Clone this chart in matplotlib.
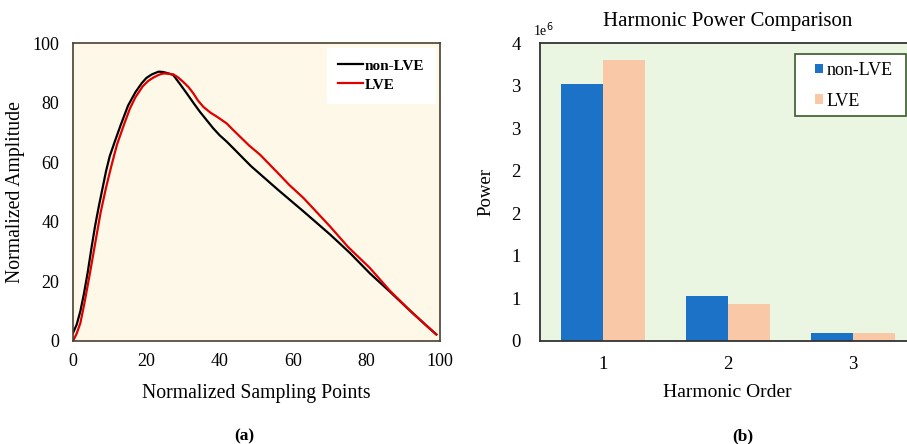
import matplotlib
matplotlib.use("Agg")
import matplotlib.pyplot as plt
from matplotlib.patches import Patch, Rectangle

plt.rcParams['font.family'] = ['Liberation Serif', 'DejaVu Serif']

# ---- data (a) ----
x_non = [0, 1, 2, 3, 4, 5, 6, 7, 8, 9, 10, 11.4, 13, 15, 17, 18.7, 20, 21.5,
         23.3, 24.5, 25.5, 27.3, 29, 31, 33, 34.6, 36.5, 38.2, 40, 41.9, 44,
         46.4, 48.5, 51, 56, 62.8, 70, 75.5, 80.9, 86.4, 92, 96, 99]
y_non = [2.7, 5.5, 10, 16, 23, 31, 38.5, 45, 51, 57, 62, 67, 72.5, 79, 83.5,
         86.5, 88.3, 89.5, 90.4, 90.3, 90, 89.3, 86.5, 83.1, 79.6, 76.9, 74,
         71.4, 69, 66.9, 64.3, 61.3, 58.7, 56, 50.6, 43.5, 35.8, 29.5, 22.7,
         16.5, 10, 5.5, 2.2]
x_lve = [0, 1, 2, 3, 4.5, 6, 7.5, 9, 10.5, 12, 14, 15.5, 17, 19, 20.5, 22,
         23.5, 24.6, 26, 27.3, 28.5, 30, 31.5, 32.8, 34, 35.5, 37.5, 39.2, 40.5,
         41.9, 43.5, 45.5, 48, 51, 55.5, 59, 62.8, 70, 75, 80.9, 86.4, 92, 96, 99]
y_lve = [0, 2.5, 6, 12, 22, 32.5, 43, 51.5, 59, 66, 73, 78, 81.8, 85.5, 87.3,
         88.5, 89.4, 89.8, 89.7, 89.5, 88.6, 87, 85.2, 83.1, 80.8, 78.6, 76.6,
         75.3, 74.2, 73, 71, 68.6, 65.6, 62.5, 56.8, 52.3, 48, 38.5, 31.5, 24.5,
         16.8, 10, 5.5, 2.2]

# ---- data (b) ----
harmonics = [1, 2, 3]
power_non = [3.02e6, 0.53e6, 0.09e6]
power_lve = [3.30e6, 0.44e6, 0.095e6]
power_ticks = [0, 0.5e6, 1.0e6, 1.5e6, 2.0e6, 2.5e6, 3.0e6, 3.5e6]
power_tick_labels = ["0", "1", "1", "2", "2", "3", "3", "4"]
series_names = ["non-LVE", "LVE"]

W, H = 907, 444
fig = plt.figure(figsize=(W / 100, H / 100), dpi=100)

# ---------- (a) ----------
ax1 = fig.add_axes([0.0805, 0.232, 0.4046, 0.671])
ax1.set_facecolor('#fdf8e8')
ax1.plot(x_non, y_non, color='black', lw=1.6, label=series_names[0])
ax1.plot(x_lve, y_lve, color='#e00000', lw=1.6, label=series_names[1])
ax1.set_xlim(0, 100)
ax1.set_ylim(0, 100)
ax1.set_xticks([0, 20, 40, 60, 80, 100])
ax1.set_yticks([0, 20, 40, 60, 80, 100])
ax1.tick_params(axis='both', labelsize=13, length=0)
ax1.tick_params(axis='x', pad=9)
ax1.tick_params(axis='y', pad=10)
ax1.set_xlabel("Normalized Sampling Points", fontsize=14.2, labelpad=10)
ax1.set_ylabel("Normalized Amplitude", fontsize=14.2, labelpad=5)
for s in ax1.spines.values():
    s.set_color('#4a4030')
    s.set_linewidth(1.2)
leg1 = ax1.legend(loc='upper right', frameon=True,
                  prop={'weight': 'bold', 'size': 11},
                  handlelength=1.6, handletextpad=0.1, borderaxespad=0.3,
                  labelspacing=0.35, fancybox=False, borderpad=0.75)
leg1.get_frame().set_facecolor('white')
leg1.get_frame().set_edgecolor('white')
leg1.get_frame().set_alpha(1)
fig.text(244 / W, 0.008, "(a)", fontsize=12.5, fontweight='bold', ha='center')

# ---------- (b) ----------
ax2 = fig.add_axes([0.5954, 0.232, 0.414, 0.671])
ax2.set_facecolor('#ebf6e2')
w = 0.336
hx = list(harmonics)
ax2.bar([h - w / 2 for h in hx], power_non, width=w, color='#1b72c6', label=series_names[0])
ax2.bar([h + w / 2 for h in hx], power_lve, width=w, color='#f9c8a6', label=series_names[1])
ax2.set_xlim(0.496, 3.5)
ax2.set_ylim(0, 3.5e6)
ax2.set_xticks(harmonics)
ax2.set_yticks(power_ticks)
ax2.set_yticklabels(power_tick_labels)
ax2.tick_params(axis='both', labelsize=13.5, length=0)
ax2.tick_params(axis='x', pad=11)
ax2.tick_params(axis='y', pad=14)
ax2.set_xlabel("Harmonic Order", fontsize=14, labelpad=8)
ax2.set_ylabel("Power", fontsize=13.5, labelpad=12)
ax2.set_title("Harmonic Power Comparison", fontsize=15, pad=12)
for s in ax2.spines.values():
    s.set_color('#333333')
    s.set_linewidth(1.3)
ax2.text(-0.02, 1.015, "1e$^6$", transform=ax2.transAxes, fontsize=10, ha='left', va='bottom')

# legend frame (drawn separately for its asymmetric padding)
frame = Rectangle((795 / W, 1 - 116 / H), 111 / W, 62 / H, transform=fig.transFigure,
                  facecolor='white', edgecolor='#3a5a2a', linewidth=1.2, zorder=4,
                  clip_on=False)
fig.patches.append(frame)
handles = [Patch(facecolor='#1b72c6'), Patch(facecolor='#f9c8a6')]
leg2 = fig.legend(handles, series_names, loc='upper left',
                  bbox_to_anchor=(815 / W, 1 - 62 / H), bbox_transform=fig.transFigure,
                  fontsize=13, handlelength=0.45, handleheight=0.45, handletextpad=0.2,
                  labelspacing=0.75, frameon=False, borderpad=0.0, borderaxespad=0.0)
leg2.set_zorder(6)
fig.text(743 / W, 0.008, "(b)", fontsize=12.5, fontweight='bold', ha='center')

fig.savefig("out.png", dpi=100)
